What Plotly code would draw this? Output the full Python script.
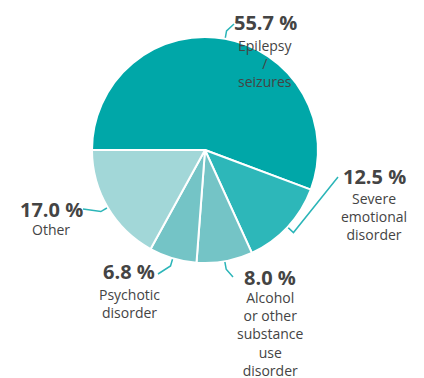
import math
import plotly.graph_objects as go

# ---- data ----
categories = ["Epilepsy / seizures", "Severe emotional disorder",
              "Alcohol or other substance use disorder", "Psychotic disorder", "Other"]
label_text = ["Epilepsy<br>/<br>seizures", "Severe<br>emotional<br>disorder",
              "Alcohol<br>or other<br>substance<br>use<br>disorder",
              "Psychotic<br>disorder", "Other"]
values = [55.7, 12.5, 8.0, 6.8, 17.0]
colors = ["#00a7a8", "#2db7b9", "#74c4c6", "#74c4c6", "#a2d7d8"]

# ---- layout constants (pixels, page has an 8px body margin) ----
OFF = 8
W, H = 424 - OFF, 378 - OFF
CX, CY, R = 205 - OFF, 150 - OFF, 113
ROT = 270  # first slice starts at 9 o'clock, clockwise
# label anchors (page px): (pct center x, pct center y, label block center y, leader end x, leader end y)
label_pos = [
    (265, 22, 63, 234, 24),
    (374, 176, 216, 338, 177),
    (270, 277, 334, 233, 277),
    (129, 271, 303, 158, 274),
    (51, 209, 229, 83, 209),
]
line_color = "#2bb5b8"
text_color = "#444444"

fig = go.Figure()
fig.add_trace(go.Pie(
    labels=categories, values=values, sort=False, direction="clockwise",
    rotation=ROT, textinfo="none", hoverinfo="label+percent",
    marker=dict(colors=colors, line=dict(color="white", width=2)),
    domain=dict(x=[(CX - R) / W, (CX + R) / W], y=[1 - (CY + R) / H, 1 - (CY - R) / H]),
    showlegend=False,
))

total = sum(values)
start = ROT
for i, v in enumerate(values):
    sweep = 360 * v / total
    mid = math.radians(start + sweep / 2)
    start += sweep
    x0, y0 = CX + R * math.sin(mid), CY - R * math.cos(mid)
    x1, y1 = CX + (R + 8) * math.sin(mid), CY - (R + 8) * math.cos(mid)
    px, py, ly, ex, ey = [c - OFF for c in label_pos[i]]
    fig.add_trace(go.Scatter(x=[x0, x1, ex], y=[y0, y1, ey], mode="lines",
                             line=dict(color=line_color, width=1.5),
                             hoverinfo="skip", showlegend=False))
    fig.add_annotation(x=px, y=py, text=f"<b>{v:.1f} %</b>", showarrow=False,
                       xanchor="center", yanchor="middle",
                       font=dict(family="Open Sans", size=20, color=text_color))
    fig.add_annotation(x=px, y=ly, text=label_text[i], showarrow=False,
                       xanchor="center", yanchor="middle", align="center",
                       font=dict(family="Open Sans", size=14, color=text_color))

fig.update_layout(
    width=W, height=H, margin=dict(l=0, r=0, t=0, b=0),
    paper_bgcolor="white", plot_bgcolor="rgba(0,0,0,0)",
    xaxis=dict(range=[0, W], visible=False, fixedrange=True),
    yaxis=dict(range=[H, 0], visible=False, fixedrange=True),
)
fig.write_html("out.html")
